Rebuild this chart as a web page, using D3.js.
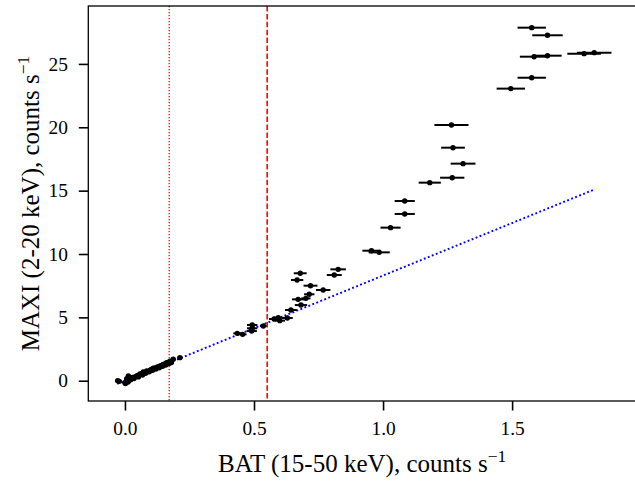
<!DOCTYPE html>
<html>
<head>
<meta charset="utf-8">
<script src="https://cdn.jsdelivr.net/npm/d3@7/dist/d3.min.js"></script>
<style>
  body { margin: 0; background: #fff; }
  text { font-family: "Liberation Serif", "DejaVu Serif", serif; fill: #000; }
</style>
</head>
<body>
<svg id="chart" width="635" height="481"></svg>
<script>
// BAT (15-50 keV) rate, its error, MAXI (2-20 keV) rate
var batRate = [
  -0.028, -0.022, 0.000, 0.005, 0.007, 0.010, 0.012, 0.013, 0.017, 0.020, 0.026, 0.030, 0.040,
  0.045, 0.050, 0.058, 0.065, 0.071, 0.077, 0.084, 0.090, 0.097, 0.103, 0.110, 0.116, 0.123,
  0.130, 0.136, 0.142, 0.148, 0.155, 0.161, 0.168, 0.174, 0.187, 0.213,
  0.002, 0.015, 0.022, 0.035, 0.052, 0.068, 0.080, 0.094, 0.107, 0.120, 0.133, 0.146, 0.158, 0.171, 0.180,
  0.435, 0.456, 0.491, 0.493, 0.493, 0.536, 0.578, 0.594, 0.600, 0.629, 0.643, 0.682, 0.671,
  0.701, 0.714, 0.719, 0.768, 0.667, 0.679, 0.811, 0.826,
  0.955, 0.985, 1.029, 1.084, 1.084, 1.181, 1.268, 1.310, 1.271, 1.265,
  1.495, 1.576, 1.585, 1.637, 1.779, 1.818, 1.637, 1.576
];
var batErr = [
  0.010, 0.010, 0.010, 0.009, 0.010, 0.010, 0.010, 0.009, 0.010, 0.010, 0.010, 0.010, 0.010,
  0.010, 0.010, 0.010, 0.010, 0.010, 0.010, 0.010, 0.010, 0.010, 0.010, 0.010, 0.010, 0.010,
  0.010, 0.010, 0.010, 0.010, 0.010, 0.010, 0.010, 0.010, 0.010, 0.010,
  0.010, 0.010, 0.010, 0.010, 0.010, 0.010, 0.010, 0.010, 0.010, 0.010, 0.010, 0.010, 0.010, 0.010, 0.010,
  0.015, 0.015, 0.020, 0.020, 0.020, 0.013, 0.020, 0.020, 0.020, 0.021, 0.023, 0.024, 0.024,
  0.018, 0.020, 0.027, 0.028, 0.024, 0.025, 0.029, 0.030,
  0.035, 0.041, 0.039, 0.039, 0.039, 0.043, 0.047, 0.048, 0.046, 0.066,
  0.055, 0.055, 0.055, 0.055, 0.065, 0.067, 0.059, 0.055
];
var maxiRate = [
  0.00, -0.05, -0.16, -0.05, 0.16, 0.10, -0.10, 0.37, 0.06, 0.25, 0.16, 0.25, 0.32,
  0.37, 0.42, 0.53, 0.55, 0.69, 0.62, 0.77, 0.72, 0.84, 0.90, 0.98, 0.98, 1.06,
  1.10, 1.16, 1.20, 1.29, 1.33, 1.42, 1.45, 1.55, 1.69, 1.82,
  -0.22, 0.02, 0.08, 0.18, 0.30, 0.45, 0.58, 0.70, 0.82, 0.92, 1.02, 1.14, 1.24, 1.36, 1.44,
  3.74, 3.66, 3.92, 4.14, 4.40, 4.32, 4.87, 4.97, 4.74, 4.95, 5.58, 5.97, 6.42,
  6.50, 6.82, 7.50, 7.16, 7.95, 8.48, 8.34, 8.79,
  10.26, 10.13, 12.08, 14.18, 13.16, 15.63, 16.02, 17.13, 18.39, 20.18,
  23.05, 23.91, 25.57, 25.65, 25.81, 25.89, 27.26, 27.86
];

// linear relation drawn as blue dotted line
var relX = [-0.03, 1.815];
var relY = [-0.25, 15.06];

// vertical markers
var dottedAt = 0.1715;
var dashedAt = 0.551;

var xTicks = [0.0, 0.5, 1.0, 1.5];
var yTicks = [0, 5, 10, 15, 20, 25];

drawChart();

function drawChart() {
  var svg = d3.select("#chart");
  var M = { left: 88.3, right: 636, top: 6, bottom: 401 };

  var x = d3.scaleLinear().domain([-0.142, 1.98]).range([M.left, M.right]);
  var y = d3.scaleLinear().domain([-1.6, 29.57]).range([M.bottom, M.top]);

  var plot = svg.append("g");

  // vertical lines
  plot.append("line")
    .attr("x1", x(dottedAt)).attr("x2", x(dottedAt))
    .attr("y1", M.top).attr("y2", M.bottom)
    .attr("stroke", "#ff0000").attr("stroke-width", 1.3)
    .attr("stroke-dasharray", "1.3,1.7");

  plot.append("line")
    .attr("x1", x(dashedAt)).attr("x2", x(dashedAt))
    .attr("y1", M.top).attr("y2", M.bottom)
    .attr("stroke", "#ff0000").attr("stroke-width", 1.6)
    .attr("stroke-dasharray", "5.5,2.4");

  // blue dotted relation
  var lineFunc = d3.line()
    .x(function (d) { return x(d[0]); })
    .y(function (d) { return y(d[1]); });

  plot.append("path")
    .attr("d", lineFunc(d3.zip(relX, relY)))
    .attr("fill", "none")
    .attr("stroke", "#0000ff")
    .attr("stroke-width", 1.9)
    .attr("stroke-dasharray", "1.9,2.4");

  var pts = batRate.map(function (b, i) {
    return { x: b, xe: batErr[i], y: maxiRate[i] };
  });

  // error bars
  plot.selectAll(".err")
    .data(pts)
    .enter().append("line")
    .attr("class", "err")
    .attr("x1", function (d) { return x(d.x - d.xe); })
    .attr("x2", function (d) { return x(d.x + d.xe); })
    .attr("y1", function (d) { return y(d.y); })
    .attr("y2", function (d) { return y(d.y); })
    .attr("stroke", "#000")
    .attr("stroke-width", 2);

  plot.selectAll(".pt")
    .data(pts)
    .enter().append("circle")
    .attr("class", "pt")
    .attr("cx", function (d) { return x(d.x); })
    .attr("cy", function (d) { return y(d.y); })
    .attr("r", 2.7)
    .attr("fill", "#000");

  // axes
  svg.append("g")
    .attr("transform", "translate(0," + M.bottom + ")")
    .call(d3.axisBottom(x).tickValues(xTicks).tickFormat(d3.format(".1f"))
      .tickSize(9.5).tickPadding(11))
    .call(function (g) { g.select(".domain").remove(); });

  svg.append("g")
    .attr("transform", "translate(" + M.left + ",0)")
    .call(d3.axisLeft(y).tickValues(yTicks).tickFormat(d3.format("d"))
      .tickSize(9.5).tickPadding(10.8))
    .call(function (g) { g.select(".domain").remove(); });

  svg.selectAll(".tick line").attr("stroke", "#000").attr("stroke-width", 1.6);
  svg.selectAll(".tick text").style("font-size", "19.4px");

  // frame
  svg.append("rect")
    .attr("x", M.left).attr("y", M.top)
    .attr("width", M.right - M.left).attr("height", M.bottom - M.top)
    .attr("fill", "none").attr("stroke", "#000").attr("stroke-width", 1.3);

  // labels
  var xl = svg.append("text")
    .attr("x", (M.left + M.right) / 2).attr("y", 472)
    .attr("text-anchor", "middle")
    .style("font-size", "25px");
  xl.append("tspan").text("BAT (15-50 keV), counts s");
  xl.append("tspan").attr("dy", -10).style("font-size", "17.5px").text("\u22121");

  var yl = svg.append("text")
    .attr("transform", "translate(39," + ((M.top + M.bottom) / 2) + ") rotate(-90)")
    .attr("text-anchor", "middle")
    .style("font-size", "25px");
  yl.append("tspan").text("MAXI (2-20 keV), counts s");
  yl.append("tspan").attr("dy", -10).style("font-size", "17.5px").text("\u22121");
}
</script>
</body>
</html>
